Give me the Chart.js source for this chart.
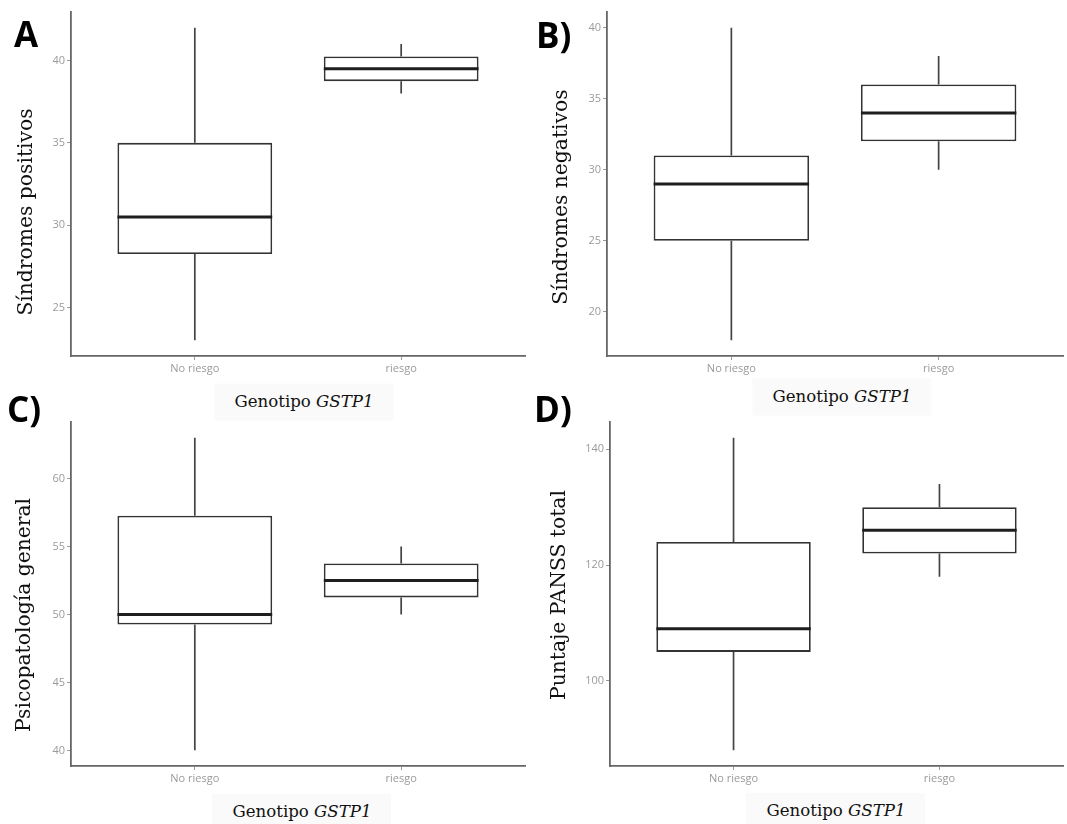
<!DOCTYPE html>
<html>
<head>
<meta charset="utf-8">
<script src="https://cdn.jsdelivr.net/npm/chart.js@4"></script>
<style>
  body { margin: 0; background: #fff; width: 1067px; height: 824px; position: relative; overflow: hidden; font-family: "DejaVu Serif", serif; }
  canvas { position: absolute; }
  .ytitle { position: absolute; transform: translate(-50%, -50%) rotate(-90deg); white-space: nowrap; font-size: 20.3px; line-height: 1; color: #111; }
  .xtitle { position: absolute; transform: translate(-50%, -50%); white-space: nowrap; font-size: 16.6px; line-height: 1; color: #111; background: #fafafa; padding: 10px 20px; }
  .tag { position: absolute; font-family: "Open Sans", sans-serif; font-weight: 700; font-size: 35px; line-height: 1; color: #000; }
</style>
</head>
<body>
<canvas id="panelA" width="533" height="392" style="left:0;top:0"></canvas>
<canvas id="panelB" width="534" height="392" style="left:533px;top:0"></canvas>
<canvas id="panelC" width="533" height="400" style="left:0;top:400px"></canvas>
<canvas id="panelD" width="534" height="400" style="left:533px;top:400px"></canvas>

<div class="xtitle" style="left:304px;top:402px">Genotipo <i>GSTP1</i></div>
<div class="xtitle" style="left:842px;top:397px">Genotipo <i>GSTP1</i></div>
<div class="xtitle" style="left:302px;top:812px">Genotipo <i>GSTP1</i></div>
<div class="xtitle" style="left:836px;top:811px">Genotipo <i>GSTP1</i></div>

<div class="ytitle" style="left:25px;top:212px">Síndromes positivos</div>
<div class="ytitle" style="left:560px;top:197px">Síndromes negativos</div>
<div class="ytitle" style="left:23px;top:615px">Psicopatología general</div>
<div class="ytitle" style="left:558px;top:595px">Puntaje PANSS total</div>

<div class="tag" style="left:14px;top:16px">A</div>
<div class="tag" style="left:536px;top:17px">B)</div>
<div class="tag" style="left:7px;top:391px">C)</div>
<div class="tag" style="left:534px;top:391px">D)</div>

<script>
const grupos = ['No riesgo', 'riesgo'];

// resumen de cinco números por grupo: [mín, Q1, mediana, Q3, máx]
const positivos = [[23, 28.25, 30.5, 35, 42], [38, 38.75, 39.5, 40.25, 41]];
const negativos = [[18, 25, 29, 31, 40], [30, 32, 34, 36, 38]];
const psicopatologia = [[40, 49.25, 50, 57.25, 63], [50, 51.25, 52.5, 53.75, 55]];
const panss = [[88, 105, 109, 124, 142], [118, 122, 126, 130, 134]];

const ticksPositivos = [25, 30, 35, 40];
const ticksNegativos = [20, 25, 30, 35, 40];
const ticksPsicopatologia = [40, 45, 50, 55, 60];
const ticksPanss = [100, 120, 140];

// bigotes y medianas encima de las cajas
const bigotesPlugin = {
  id: 'bigotes',
  beforeDatasetsDraw(chart, args, opts) {
    const ctx = chart.ctx, x = chart.scales.x, y = chart.scales.y;
    ctx.save();
    ctx.strokeStyle = '#444';
    ctx.lineWidth = 1.7;
    opts.stats.forEach((s, i) => {
      const px = x.getPixelForValue(i + 1);
      ctx.beginPath();
      ctx.moveTo(px, y.getPixelForValue(s[0]));
      ctx.lineTo(px, y.getPixelForValue(s[1]));
      ctx.moveTo(px, y.getPixelForValue(s[3]));
      ctx.lineTo(px, y.getPixelForValue(s[4]));
      ctx.stroke();
    });
    ctx.restore();
  },
  afterDatasetsDraw(chart, args, opts) {
    const ctx = chart.ctx, y = chart.scales.y;
    const meta = chart.getDatasetMeta(0);
    ctx.save();
    ctx.strokeStyle = '#1e1e1e';
    ctx.lineWidth = 3;
    opts.stats.forEach((s, i) => {
      const bar = meta.data[i];
      const py = y.getPixelForValue(s[2]);
      ctx.beginPath();
      ctx.moveTo(bar.x - bar.width / 2, py);
      ctx.lineTo(bar.x + bar.width / 2, py);
      ctx.stroke();
    });
    ctx.restore();
  }
};

function boxplot(id, stats, yTicks, yWidth, xHeight, padTop, padRight) {
  const lo = Math.min(...stats.map(s => s[0]));
  const hi = Math.max(...stats.map(s => s[4]));
  const span = hi - lo;
  const tickFont = { family: 'Open Sans', size: 11 };

  new Chart(document.getElementById(id), {
    type: 'bar',
    data: {
      datasets: [{
        data: stats.map((s, i) => ({ x: i + 1, y: [s[1], s[3]] })),
        backgroundColor: '#fff',
        borderColor: '#333',
        borderWidth: 1.8,
        borderSkipped: false,
        barPercentage: 0.75,
        categoryPercentage: 1
      }]
    },
    options: {
      responsive: false,
      animation: false,
      layout: { padding: { top: padTop, right: padRight, left: 0, bottom: 0 } },
      plugins: {
        legend: { display: false },
        tooltip: { enabled: false },
        bigotes: { stats: stats }
      },
      scales: {
        x: {
          type: 'linear',
          min: 0.4,
          max: 2.6,
          offset: false,
          afterBuildTicks: s => { s.ticks = grupos.map((g, i) => ({ value: i + 1 })); },
          afterFit: s => { s.height = xHeight; },
          ticks: { callback: v => grupos[v - 1], color: '#9a9a9a', font: tickFont, padding: 2, maxRotation: 0 },
          grid: { drawOnChartArea: false, offset: false, color: '#999', tickLength: 4 },
          border: { color: '#666', width: 1.8 }
        },
        y: {
          min: lo - 0.05 * span,
          max: hi + 0.05 * span,
          afterBuildTicks: s => { s.ticks = yTicks.map(v => ({ value: v })); },
          afterFit: s => { s.width = yWidth; },
          ticks: { color: '#9a9a9a', font: tickFont, padding: 2 },
          grid: { drawOnChartArea: false, color: '#999', tickLength: 4 },
          border: { color: '#666', width: 1.8 }
        }
      }
    },
    plugins: [bigotesPlugin]
  });
}

boxplot('panelA', positivos, ticksPositivos, 71, 36, 12, 8);
boxplot('panelB', negativos, ticksNegativos, 74, 36, 12, 4);
boxplot('panelC', psicopatologia, ticksPsicopatologia, 71, 34, 22, 8);
boxplot('panelD', panss, ticksPanss, 77, 34, 22, 4);
</script>
</body>
</html>
